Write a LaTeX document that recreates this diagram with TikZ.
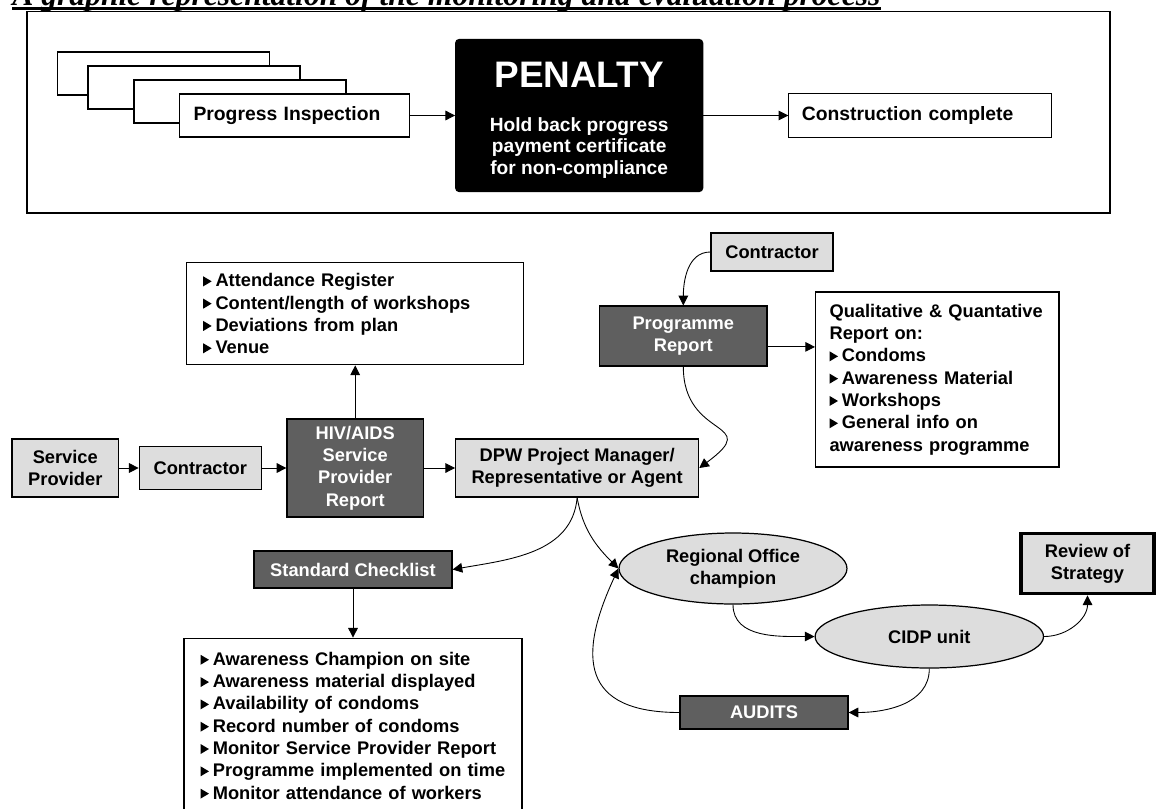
\documentclass[tikz,border=0pt]{standalone}
\usepackage{fontspec}
\setmainfont{Liberation Sans}
\newfontfamily\titlefont{Liberation Serif}
\usetikzlibrary{shapes.geometric,arrows.meta,positioning}
\definecolor{lightbox}{HTML}{DDDDDD}
\definecolor{darkbox}{HTML}{5F5F5F}
\newcommand\bodyfont{\fontsize{10.4}{12.7}\selectfont\bfseries}
\newcommand\topfont{\fontsize{11}{13}\selectfont\bfseries}
\newcommand\tri{\tikz[baseline=0pt]\fill (0pt,0.3pt)--(0pt,6pt)--(4.8pt,3.15pt)--cycle;\hspace{2.2pt}}

\begin{document}
\begin{tikzpicture}[x=0.02cm, y=-0.02cm,
	plain/.style = {draw, line width=0.7pt, fill=white, inner sep=0pt, align=center, font=\bodyfont},
	light/.style = {plain, fill=lightbox},
	dark/.style = {plain, fill=darkbox, text=white},
	oval/.style = {light, ellipse},
	lst/.style = {plain, align=left},
	sheet/.style = {plain, minimum width=4.24cm, minimum height=0.86cm},
	arr/.style = {-{Triangle[length=5.5pt,width=5.5pt]}, line width=0.5pt}]
	\useasboundingbox (0,0) rectangle (1158,808);
	\node[anchor=base west, inner sep=0pt, font=\titlefont\fontsize{18}{18}\selectfont\bfseries\itshape] (title) at (12,5.5) {A graphic representation of the monitoring and evaluation process};
	\draw[line width=1.7pt] ([yshift=-1.9pt]title.base west) -- ([yshift=-1.9pt]title.base east);
	\draw[line width=0.7pt] (27,11.8) rectangle (1110,213);
	\node[sheet] (s1) at (163.7,73.5) {};
	\node[sheet] (s2) at (194,87.5) {};
	\node[sheet] (s3) at (240,101.5) {};
	\node[lst, font=\topfont, text width=4.04cm, inner xsep=0.28cm, minimum height=0.86cm] (pi) at (294.5,115.5) {Progress Inspection};
	\node[plain, fill=black, text=white, rounded corners=2pt, minimum width=4.94cm, minimum height=3.04cm, font=\fontsize{10.9}{12.2}\selectfont\bfseries] (pen) [right=0.9cm of pi] {{\fontsize{21}{25}\selectfont\rule{0pt}{19.6pt}PENALTY}\\[12.8pt]Hold back progress\\payment certificate\\for non-compliance};
	\node[lst, font=\topfont, text width=4.74cm, inner xsep=0.26cm, minimum height=0.88cm] (cc) [right=1.7cm of pen] {Construction complete};
	\node[light, minimum width=2.13cm, minimum height=1.16cm] (sp) at (65.3,468) {Service\\Provider};
	\node[light, minimum width=2.44cm, minimum height=0.86cm] (c1) [right=0.39cm of sp] {Contractor};
	\node[dark, minimum width=2.73cm, minimum height=1.96cm] (hiv) [right=0.49cm of c1] {HIV/AIDS\\Service\\Provider\\Report};
	\node[light, minimum width=4.86cm, minimum height=1.16cm] (dpw) [right=0.62cm of hiv] {DPW Project Manager/\\Representative or Agent};
	\node[lst, text width=6.08cm, inner xsep=0.33cm, minimum height=2.04cm] (att) [above=1.06cm of hiv] {\tri Attendance Register\\\tri Content/length of workshops\\\tri Deviations from plan\\\tri Venue};
	\node[light, minimum width=2.44cm, minimum height=0.76cm] (c2) at (772,252) {Contractor};
	\node[dark, minimum width=3.35cm, minimum height=1.2cm] (pr) at (683.3,336) {Programme\\Report};
	\node[lst, text width=4.31cm, inner xsep=0.28cm, minimum height=3.5cm] (qual) at (937.3,379.5) {Qualitative \& Quantative\\Report on:\\\tri Condoms\\\tri Awareness Material\\\tri Workshops\\\tri General info on\\awareness programme};
	\node[dark, minimum width=3.96cm, minimum height=0.74cm] (sc) at (353,569.5) {Standard Checklist};
	\node[lst, text width=6.1cm, inner xsep=0.33cm, minimum height=3.5cm] (chk) [below=0.98cm of sc] {\tri Awareness Champion on site\\\tri Awareness material displayed\\\tri Availability of condoms\\\tri Record number of condoms\\\tri Monitor Service Provider Report\\\tri Programme implemented on time\\\tri Monitor attendance of workers};
	\node[oval, minimum width=4.56cm, minimum height=1.42cm] (ro) at (733,568.5) {Regional Office\\champion};
	\node[oval, minimum width=4.57cm, minimum height=1.26cm] (cidp) at (929.3,636.5) {CIDP unit};
	\node[light, line width=2.2pt, minimum width=2.66cm, minimum height=1.2cm] (rev) at (1087.5,563.5) {Review of\\Strategy};
	\node[dark, minimum width=3.36cm, minimum height=0.66cm] (au) at (764,712.5) {AUDITS};
	\coordinate (prq) at ([yshift=-6.2pt]pr.east);
	\draw[arr] (pi) -- (pen);
	\draw[arr] (pen) -- (cc);
	\draw[arr] (sp) -- (c1);
	\draw[arr] (c1) -- (hiv);
	\draw[arr] (hiv) -- (dpw);
	\draw[arr] (hiv) -- (att);
	\draw[arr] (c2.west) to[out=180,in=90] (pr.north);
	\draw[arr] (prq) -- (prq -| qual.west);
	\draw[arr] (pr.south) .. controls +(0,74) and +(65,-48) .. (dpw.east);
	\draw[arr] (dpw.south) to[out=-95,in=10] (sc.east);
	\draw[arr] (dpw.south) to[out=-80,in=135] (ro.west);
	\draw[arr] (au.west) to[out=180,in=-115,looseness=1.6] (ro.west);
	\draw[arr] (ro.south) to[out=-90,in=180] (cidp.west);
	\draw[arr] (cidp.east) to[out=0,in=-90] (rev.south);
	\draw[arr] (cidp.south) to[out=-90,in=0] (au.east);
	\draw[arr] (sc) -- (chk);
\end{tikzpicture}
\end{document}
